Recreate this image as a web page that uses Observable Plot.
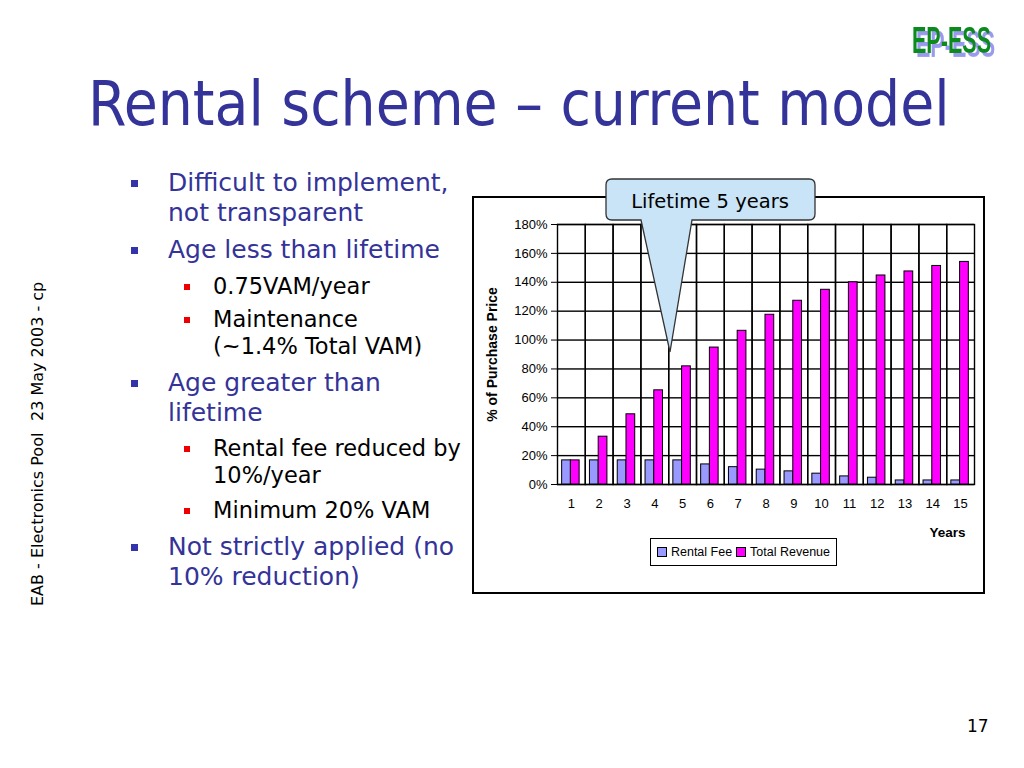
<!DOCTYPE html>
<html>
<head>
<meta charset="utf-8">
<script src="https://cdn.jsdelivr.net/npm/d3@7"></script>
<script src="https://cdn.jsdelivr.net/npm/@observablehq/plot@0.6"></script>
<style>
  html, body { margin: 0; padding: 0; background: #fff; }
  body { width: 1024px; height: 768px; position: relative; overflow: hidden; font-family: "DejaVu Sans", sans-serif; }
  .abs { position: absolute; white-space: nowrap; }
  .title { left: 88px; top: 68px; font-size: 61.5px; color: #333399; line-height: 72px; font-family: "DejaVu Sans Condensed", "DejaVu Sans", sans-serif; }
  .l1 { left: 168px; font-size: 25px; color: #333399; line-height: 30px; }
  .l2 { left: 213px; font-size: 22.5px; color: #000; line-height: 27px; }
  .b1 { position: absolute; width: 7px; height: 7px; background: #3333aa; left: 131px; }
  .b2 { position: absolute; width: 6px; height: 6px; background: #ee0000; left: 184px; }
  .side { font-size: 16px; color: #000; transform-origin: 0 0; transform: rotate(-90deg); }
  #chartbox { position: absolute; left: 472px; top: 196px; width: 513px; height: 398px; border: 2px solid #000; box-sizing: border-box; background: #fff; }
  #chart { position: absolute; left: 0; top: 0; }
  #chart svg { display: block; }
  #chart g[aria-label="y-axis label"] text { font-weight: bold; font-size: 14px; }
  #chart g[aria-label="fx-axis label"] text { font-weight: bold; font-size: 13.5px; }
  #chart g[aria-label="fx-axis label"] { translate: -15px 0; }
  #legend { position: absolute; left: 176px; top: 340px; width: 187px; height: 28px; border: 1.5px solid #000; box-sizing: border-box; font-family: "Liberation Sans", Arial, sans-serif; font-size: 12.5px; display: flex; align-items: center; justify-content: center; gap: 4px; background: #fff; }
  .sw { display: inline-block; width: 8px; height: 8px; border: 1px solid #000; margin-right: 4px; vertical-align: middle; }
  .item { display: flex; align-items: center; }
</style>
</head>
<body>
<div class="abs title">Rental scheme – current model</div>

<div class="b1" style="top:180px"></div>
<div class="abs l1" style="top:168px">Difficult to implement,<br>not transparent</div>
<div class="b1" style="top:247px"></div>
<div class="abs l1" style="top:235px">Age less than lifetime</div>
<div class="b2" style="top:284px"></div>
<div class="abs l2" style="top:273px">0.75VAM/year</div>
<div class="b2" style="top:317px"></div>
<div class="abs l2" style="top:306px">Maintenance<br>(~1.4% Total VAM)</div>
<div class="b1" style="top:380px"></div>
<div class="abs l1" style="top:368px">Age greater than<br>lifetime</div>
<div class="b2" style="top:446px"></div>
<div class="abs l2" style="top:435px">Rental fee reduced by<br>10%/year</div>
<div class="b2" style="top:508px"></div>
<div class="abs l2" style="top:497px">Minimum 20% VAM</div>
<div class="b1" style="top:544px"></div>
<div class="abs l1" style="top:532px">Not strictly applied (no<br>10% reduction)</div>

<div class="abs side" style="left:28px; top:606px;">EAB - Electronics Pool</div>
<div class="abs side" style="left:28px; top:421px;">23 May 2003 - cp</div>

<div class="abs" style="left:967px; top:716px; font-size:17px; color:#000;">17</div>

<svg class="abs" style="left:900px; top:14px;" width="120" height="50">
  <defs>
    <filter id="sh" x="-10%" y="-10%" width="130%" height="140%">
      <feDropShadow dx="4" dy="3" stdDeviation="0.6" flood-color="#9999ee" flood-opacity="1"/>
    </filter>
  </defs>
  <g transform="translate(12,39) scale(1,1.3)">
    <text x="0" y="0" textLength="79" lengthAdjust="spacingAndGlyphs" font-family="Liberation Sans Narrow, Liberation Sans, sans-serif" font-weight="bold" font-size="29" fill="#078a1f" filter="url(#sh)">EP-ESS</text>
  </g>
</svg>

<div id="chartbox">
  <div id="chart"></div>
  <div id="legend">
    <span class="item"><span class="sw" style="background:#9999FF"></span>Rental Fee</span>
    <span class="item"><span class="sw" style="background:#FF00FF"></span>Total Revenue</span>
  </div>
</div>

<svg class="abs" style="left:0; top:0; pointer-events:none;" width="1024" height="768">
  <path d="M612,179 H809 Q815,179 815,185 V214 Q815,220 809,220 H692 L670,352 L641,220 H612 Q606,220 606,214 V185 Q606,179 612,179 Z" fill="#c9e4f7" stroke="#333" stroke-width="1.3"/>
  <text x="710" y="208" text-anchor="middle" font-family="DejaVu Sans, sans-serif" font-size="19.5" fill="#000">Lifetime 5 years</text>
</svg>

<script>
const years = [1, 2, 3, 4, 5, 6, 7, 8, 9, 10, 11, 12, 13, 14, 15];
const rentalFee = [16.7, 16.7, 16.7, 16.7, 16.7, 13.9, 12.0, 10.3, 9.1, 7.5, 5.6, 4.7, 2.8, 2.8, 2.8];
const totalRevenue = [16.7, 33.1, 48.6, 65.2, 81.8, 94.8, 106.4, 117.5, 127.2, 134.8, 140.0, 144.7, 147.5, 151.3, 154.1];
const seriesNames = ["Rental Fee", "Total Revenue"];
const seriesColors = ["#9999FF", "#FF00FF"];
const yTicks = [0, 20, 40, 60, 80, 100, 120, 140, 160, 180];

const data = years.flatMap((yr, i) => [
  {year: yr, series: seriesNames[0], value: rentalFee[i]},
  {year: yr, series: seriesNames[1], value: totalRevenue[i]}
]);

const chart = Plot.plot({
  width: 509,
  height: 394,
  marginLeft: 83,
  marginRight: 9,
  marginTop: 26,
  marginBottom: 108,
  style: {fontFamily: "Liberation Sans, Arial, sans-serif", fontSize: "13px", color: "#000", background: "transparent", overflow: "visible"},
  fx: {domain: years, padding: 0, round: false},
  x: {domain: seriesNames, paddingInner: 0, paddingOuter: 0.59, align: 0.45, round: false, axis: null},
  y: {domain: [0, 180]},
  color: {domain: seriesNames, range: seriesColors},
  marks: [
    Plot.gridY(yTicks, {stroke: "#000", strokeOpacity: 1, strokeWidth: 1.4}),
    Plot.frame({stroke: "#000", strokeWidth: 1.4}),
    Plot.barY(data, {fx: "year", x: "series", y: "value", fill: "series", stroke: "#000", strokeWidth: 1}),
    Plot.axisY(yTicks, {tickFormat: d => d + "%", tickSize: 6, tickPadding: 4, label: "% of Purchase Price", labelAnchor: "center", labelArrow: "none", labelOffset: 70}),
    Plot.axisFx({anchor: "bottom", tickSize: 0, tickPadding: 14, label: "Years", labelAnchor: "right", labelArrow: "none", labelOffset: 52})
  ]
});
document.getElementById("chart").appendChild(chart);
</script>
</body>
</html>
